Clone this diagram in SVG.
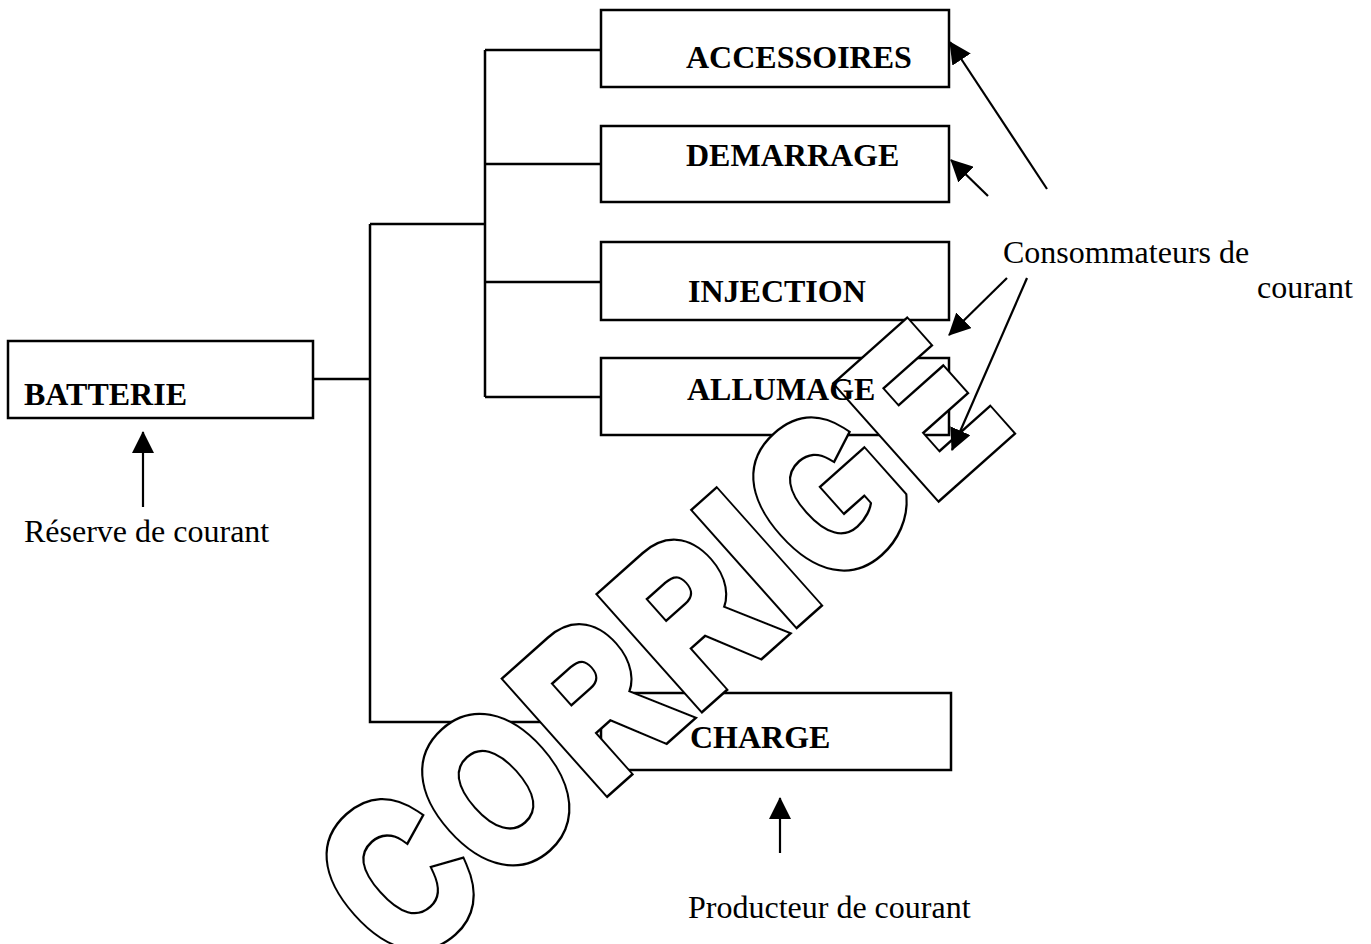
<svg xmlns="http://www.w3.org/2000/svg" xmlns:xlink="http://www.w3.org/1999/xlink" width="1371" height="944" viewBox="0 0 1371 944">
<style>
  .box { fill: none; stroke: #000; stroke-width: 2.5; }
  .lbl { font-family: "Liberation Serif", "Times New Roman", serif; font-weight: bold; font-size: 32px; fill: #000; }
  .note { font-family: "Liberation Serif", "Times New Roman", serif; font-size: 32px; fill: #000; }
  .wire { fill: none; stroke: #000; stroke-width: 2.5; }
  .arr { fill: none; stroke: #000; stroke-width: 2.2; marker-end: url(#head); }
  .wm { font-family: "Liberation Sans", Arial, sans-serif; font-weight: bold; font-size: 210px; letter-spacing: 11px; vector-effect: non-scaling-stroke; stroke-linejoin: miter; }
</style>
<defs>
  <marker id="head" markerUnits="userSpaceOnUse" viewBox="0 0 22 22" markerWidth="22" markerHeight="22" refX="21" refY="11" orient="auto">
    <path d="M0,0 L22,11 L0,22 z" fill="#000"/>
  </marker>
  <text id="wmtext" class="wm" x="0" y="0">CORRIGE</text>
  <mask id="under-wm" maskUnits="userSpaceOnUse" x="0" y="0" width="1371" height="944">
    <rect width="1371" height="944" fill="#fff"/>
    <g transform="translate(402.1,970.3) rotate(-41.7) scale(0.78,1)">
      <use href="#wmtext" xlink:href="#wmtext" fill="#000" stroke="#000" stroke-width="12"/>
    </g>
  </mask>
</defs>
<rect width="1371" height="944" fill="#fff"/>

<g id="watermark" transform="translate(402.1,970.3) rotate(-41.7) scale(0.78,1)">
  <use href="#wmtext" xlink:href="#wmtext" fill="#000" stroke="#000" stroke-width="14.5"/>
  <use href="#wmtext" xlink:href="#wmtext" fill="#fff" stroke="#fff" stroke-width="10"/>
</g>

<g id="connectors" mask="url(#under-wm)">
  <path class="wire" d="M313,379 H370 M370,224 V722 H601 M370,224 H485 M485,50 V397 M485,50 H601 M485,164 H601 M485,282 H601 M485,397 H601"/>
</g>

<g id="batterie">
  <rect class="box" x="8" y="341" width="305" height="77"/>
  <text class="lbl" x="24" y="405">BATTERIE</text>
</g>
<g id="accessoires">
  <rect class="box" x="601" y="10" width="348" height="77"/>
  <text class="lbl" x="686" y="68">ACCESSOIRES</text>
</g>
<g id="demarrage">
  <rect class="box" x="601" y="126" width="348" height="76"/>
  <text class="lbl" x="686" y="166">DEMARRAGE</text>
</g>
<g id="injection">
  <rect class="box" x="601" y="242" width="348" height="78" mask="url(#under-wm)"/>
  <text class="lbl" x="688" y="302">INJECTION</text>
</g>
<g id="allumage">
  <rect class="box" x="601" y="358" width="348" height="77" mask="url(#under-wm)"/>
  <text class="lbl" x="687" y="400">ALLUMAGE</text>
</g>
<g id="charge">
  <rect class="box" x="601" y="693" width="350" height="77" mask="url(#under-wm)"/>
  <text class="lbl" x="690" y="748">CHARGE</text>
</g>

<g id="annotations-left">
  <line class="arr" x1="143" y1="507" x2="143" y2="432"/>
  <text class="note" x="24" y="542">Réserve de courant</text>
  <line class="arr" x1="780" y1="853" x2="780" y2="798"/>
  <text class="note" x="688" y="918">Producteur de courant</text>
</g>

<g id="annotations-right">
  <line class="arr" x1="1047" y1="189" x2="950" y2="42"/>
  <line class="arr" x1="988" y1="196" x2="951" y2="160"/>
  <line class="arr" x1="1007" y1="278" x2="949" y2="335"/>
  <line class="arr" x1="1027" y1="278" x2="952" y2="450"/>
  <text class="note" x="1003" y="263">Consommateurs de</text>
  <text class="note" x="1257" y="298">courant</text>
</g>
</svg>
